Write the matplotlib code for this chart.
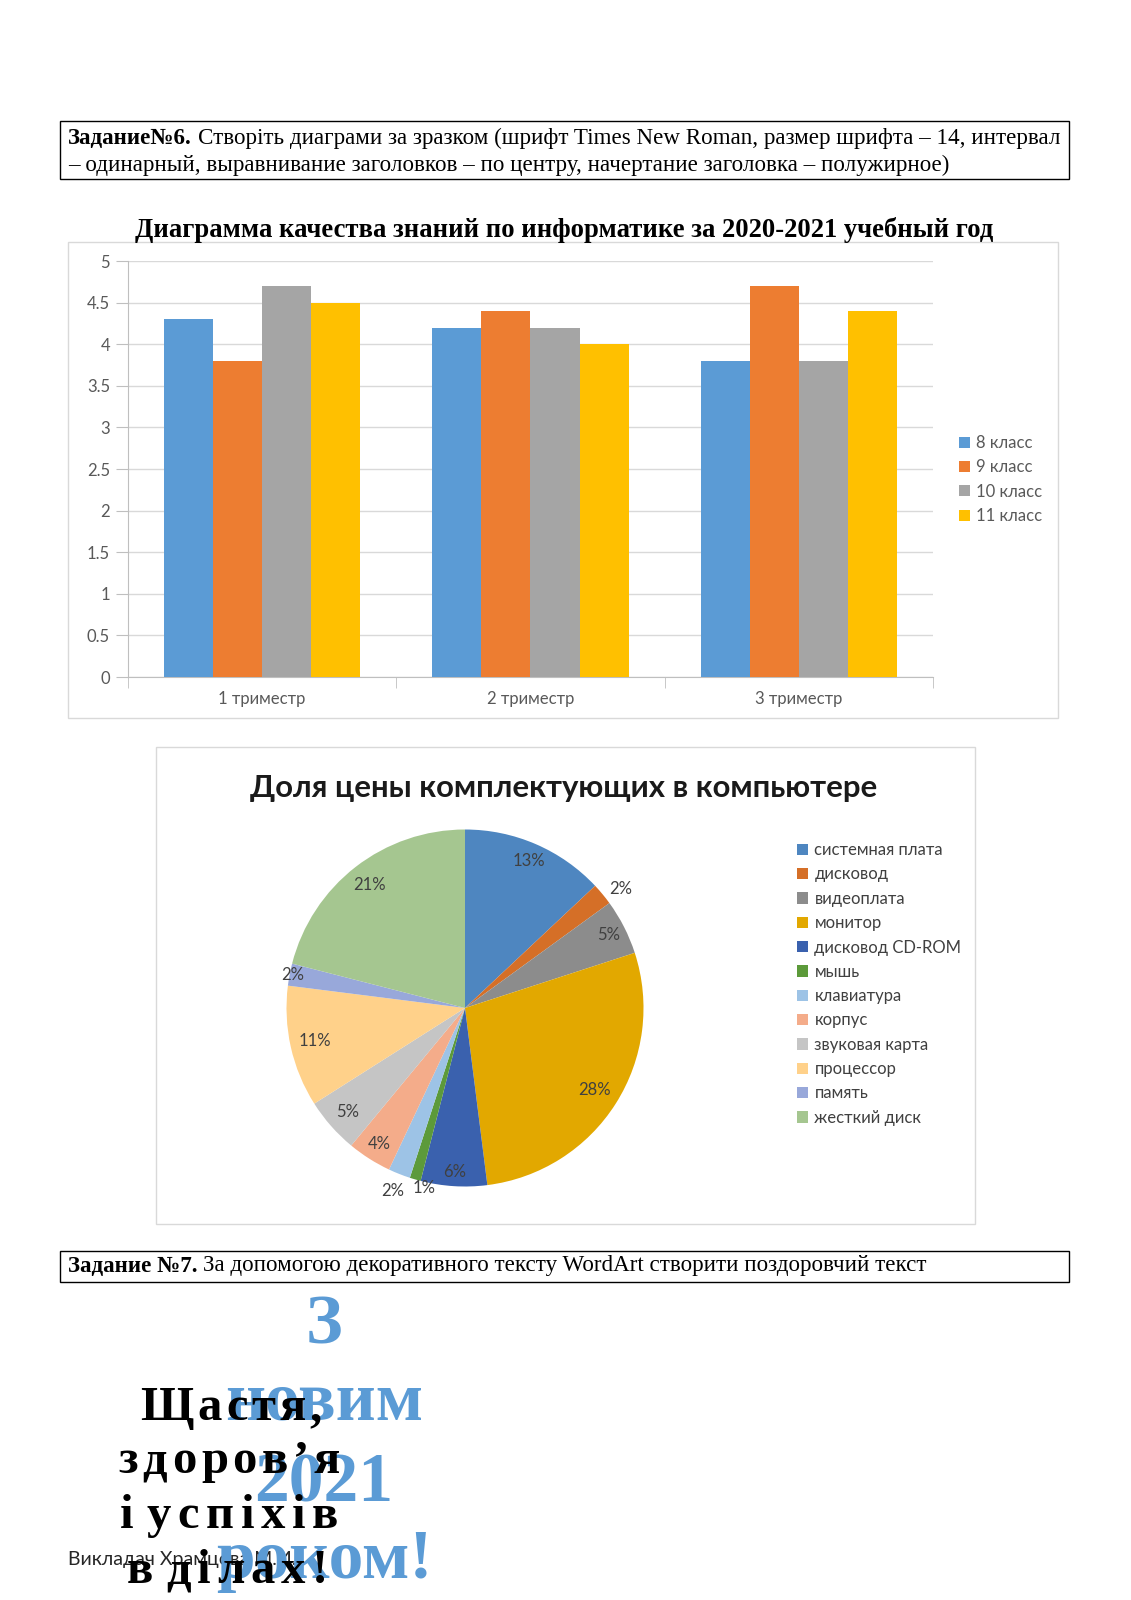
import numpy as np
import matplotlib
matplotlib.use('Agg')
import matplotlib.pyplot as plt
from matplotlib.patches import Rectangle

W, H = 1131, 1600

# bar chart data
periods = ['1 триместр', '2 триместр', '3 триместр']
grades = ['8 класс', '9 класс', '10 класс', '11 класс']
marks_8 = [4.3, 4.2, 3.8]
marks_9 = [3.8, 4.4, 4.7]
marks_10 = [4.7, 4.2, 3.8]
marks_11 = [4.5, 4.0, 4.4]
grade_colors = ['#5B9BD5', '#ED7D31', '#A5A5A5', '#FFC000']

# pie chart data
parts = ['системная плата', 'дисковод', 'видеоплата', 'монитор', 'дисковод CD-ROM',
         'мышь', 'клавиатура', 'корпус', 'звуковая карта', 'процессор', 'память',
         'жесткий диск']
shares = [13, 2, 5, 28, 6, 1, 2, 4, 5, 11, 2, 21]
part_colors = ['#4E86C0', '#D56F27', '#8C8C8C', '#E2A800', '#3A61AE', '#5C9A3A',
               '#9DC3E6', '#F4AC8A', '#C5C5C5', '#FFD18A', '#98A8DA', '#A5C690']
label_dist = [0.9, 1.05, 0.9, 0.86, 0.92, 1.05, 1.1, 0.9, 0.88, 0.86, 0.98, 0.87]
label_ha = ['center', 'left', 'center', 'center', 'center', 'left',
            'center', 'center', 'center', 'center', 'center', 'center']

SERIF = ['Liberation Serif', 'DejaVu Serif']
SANS = ['Lato', 'Open Sans', 'DejaVu Sans']

fig = plt.figure(figsize=(W / 100, H / 100), dpi=100)
page = fig.add_axes([0, 0, 1, 1])
page.set_xlim(0, W)
page.set_ylim(H, 0)
page.axis('off')
rend = fig.canvas.get_renderer()


def px(x0, y0, x1, y1):
    return [x0 / W, 1 - y1 / H, (x1 - x0) / W, (y1 - y0) / H]


def width(t):
    return t.get_window_extent(rend).width


def fit(t, w):
    t.set_fontsize(t.get_fontsize() * w / width(t))


def two_part(x, y, bold, normal, fs, total=None):
    b = page.text(x, y, bold, family=SERIF, fontweight='bold', fontsize=fs, va='center')
    n = page.text(x, y, normal, family=SERIF, fontsize=fs, va='center')
    if total:
        k = total / (width(b) + width(n) + fs * 0.35)
        fs = fs * k
        b.set_fontsize(fs)
        n.set_fontsize(fs)
    n.set_x(x + width(b) + fs * 0.35)
    return fs


def tracked(s, y, x0, x1, fs):
    # letter-spaced WordArt line
    ts = [page.text(0, y, ch, fontsize=fs, fontweight='bold', family=SERIF,
                    va='baseline', color='black', zorder=4) for ch in s]
    ws = [0 if ch == ' ' else width(t) for t, ch in zip(ts, s)]
    gap = (x1 - x0 - sum(ws)) / (len(s) - 1)
    x = x0
    for t, w in zip(ts, ws):
        t.set_x(x)
        x += w + gap


# task 6 box
page.add_patch(Rectangle((60, 121), 1009, 58, fill=False, ec='black', lw=1))
line2 = page.text(68, 165, '– одинарный, выравнивание заголовков – по центру, начертание заголовка – полужирное)',
                  family=SERIF, fontsize=16, va='center')
fit(line2, 878)
fs = line2.get_fontsize()
two_part(68, 138, 'Задание№6.',
         'Створіть диаграми за зразком (шрифт Times New Roman, размер шрифта – 14, интервал', fs)

# bar chart
t = page.text(564, 230, 'Диаграмма качества знаний по информатике за 2020-2021 учебный год',
              ha='center', va='center', fontweight='bold', family=SERIF, fontsize=19)
fit(t, 856)
page.add_patch(Rectangle((68, 242), 990, 476, fill=False, ec='#D9D9D9', lw=1))

ax = fig.add_axes(px(128, 261, 933, 677))
ax.set_facecolor('none')
x = np.arange(len(periods))
w = 0.183
for i, (vals, c, lab) in enumerate(zip([marks_8, marks_9, marks_10, marks_11], grade_colors, grades)):
    ax.bar(x + (i - 1.5) * w, vals, w, color=c, label=lab, zorder=3)
ax.set_xlim(-0.5, 2.5)
ax.set_ylim(0, 5)
yt = np.arange(0, 5.01, 0.5)
ax.set_yticks(yt, [f'{v:g}' for v in yt])
ax.set_xticks(x, periods)
ax.set_xticks([-0.5, 0.5, 1.5, 2.5], minor=True)
ax.yaxis.grid(True, color='#D9D9D9', lw=1)
ax.set_axisbelow(True)
for s in ['top', 'right']:
    ax.spines[s].set_visible(False)
for s in ['left', 'bottom']:
    ax.spines[s].set_color('#BFBFBF')
ax.tick_params(axis='y', length=9, color='#BFBFBF', pad=4, labelsize=12, labelcolor='#595959')
ax.tick_params(axis='x', which='major', length=0, pad=10, labelsize=12, labelcolor='#595959')
ax.tick_params(axis='x', which='minor', length=8, color='#BFBFBF')
for lab in ax.get_xticklabels() + ax.get_yticklabels():
    lab.set_family(SANS)
ax.legend(loc='center left', bbox_to_anchor=(959 / W, 1 - 479.5 / H), bbox_transform=fig.transFigure,
          frameon=False, prop={'family': SANS, 'size': 12}, labelcolor='#595959',
          handlelength=0.65, handleheight=0.65, handletextpad=0.4, labelspacing=0.5,
          borderpad=0, borderaxespad=0)

# pie chart
page.add_patch(Rectangle((156, 747), 819, 477, fill=False, ec='#D9D9D9', lw=1))
t = page.text(564, 788, 'Доля цены комплектующих в компьютере', ha='center', va='center',
              fontweight='bold', family=SANS, fontsize=20, color='#1A1A1A')
fit(t, 630)

cx, cy, R = 465, 1008, 178.5
pax = fig.add_axes(px(cx - R, cy - R, cx + R, cy + R))
wedges, _ = pax.pie(shares, colors=part_colors, startangle=90, counterclock=False,
                    wedgeprops={'linewidth': 0})
pax.set_xlim(-1, 1)
pax.set_ylim(-1, 1)
for wd, s, d, ha in zip(wedges, shares, label_dist, label_ha):
    a = np.deg2rad((wd.theta1 + wd.theta2) / 2)
    pax.text(d * np.cos(a), d * np.sin(a), f'{s}%', ha=ha, va='center',
             fontsize=12, family=SANS, color='#404040')
pax.legend(wedges, parts, loc='center left', bbox_to_anchor=(797 / W, 1 - 984 / H),
           bbox_transform=fig.transFigure, frameon=False, prop={'family': SANS, 'size': 12},
           labelcolor='#404040', handlelength=0.65, handleheight=0.65, handletextpad=0.4,
           labelspacing=0.5, borderpad=0, borderaxespad=0)

# task 7 box
page.add_patch(Rectangle((60, 1251), 1009, 31, fill=False, ec='black', lw=1))
two_part(68, 1266, 'Задание №7.',
         'За допомогою декоративного тексту WordArt створити поздоровчий текст', 16, total=857)

# WordArt
page.text(68, 1560, 'Викладач Храмцова М.И.', family=SANS, fontsize=14, va='center',
          color='#262626', zorder=2)
for s, yb in zip(['З', 'новим', '2021', 'роком!'], [1343, 1420, 1502, 1578]):
    page.text(324, yb, s, ha='center', va='baseline', fontsize=50, fontweight='bold',
              family=SERIF, color='#5B9BD5', zorder=3)
tracked('Щастя,', 1420, 140, 322, 35)
tracked('здоров’я', 1473, 118, 340, 35)
tracked('і успіхів', 1528, 120, 338, 35)
tracked('в ділах!', 1583, 127, 328, 35)

fig.savefig('out.png', dpi=100)
